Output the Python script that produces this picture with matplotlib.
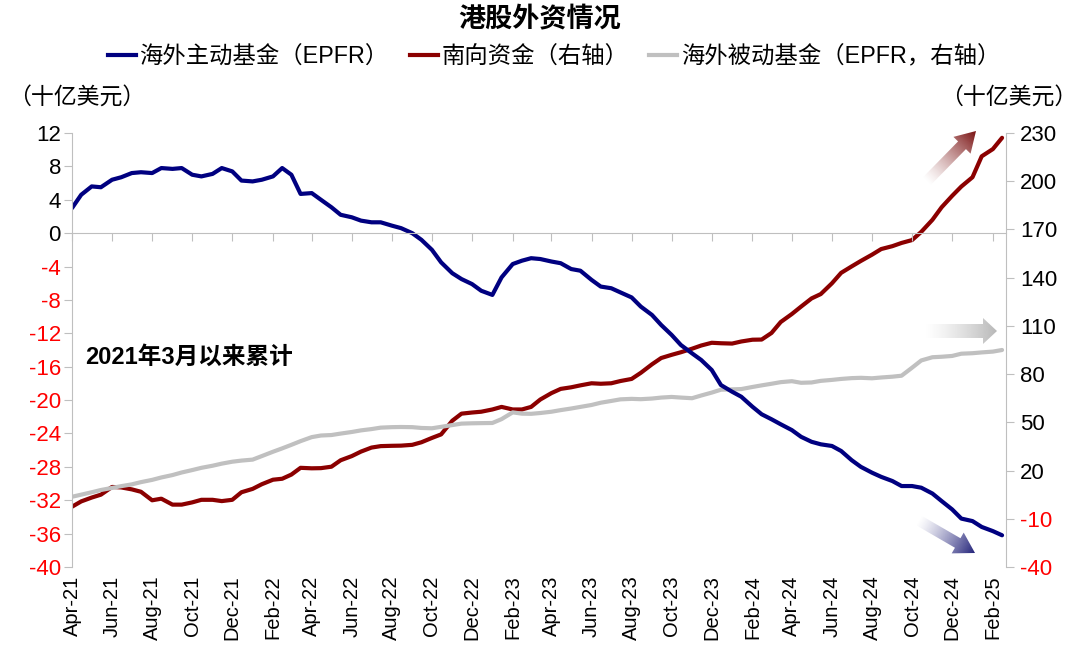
import numpy as np
import pandas as pd
import matplotlib
matplotlib.use("Agg")
import matplotlib.pyplot as plt
import matplotlib.dates as mdates
from matplotlib.patches import FancyArrow
from matplotlib.lines import Line2D

plt.rcParams['font.family'] = ['Liberation Sans', 'Noto Sans CJK SC', 'DejaVu Sans']

# 半月频率，2021-04-01 起
dates = pd.date_range('2021-04-01', periods=94, freq='SMS')

# 海外主动基金（EPFR），左轴，十亿美元
active = [3.0, 4.6, 5.6, 5.5, 6.4, 6.7, 7.2, 7.3, 7.2, 7.8,
          7.7, 7.8, 7.0, 6.8, 7.1, 7.8, 7.4, 6.3, 6.2, 6.4,
          6.8, 7.8, 7.0, 4.7, 4.8, 4.0, 3.1, 2.2, 1.9, 1.5,
          1.3, 1.3, 0.9, 0.6, 0.0, -0.8, -2.0, -3.5, -4.8, -5.5,
          -6.1, -6.9, -7.4, -5.3, -3.7, -3.3, -3.0, -3.1, -3.4, -3.6,
          -4.3, -4.5, -5.6, -6.4, -6.6, -7.1, -7.7, -8.8, -9.8, -11.0,
          -12.2, -13.4, -14.4, -15.2, -16.4, -18.2, -19.0, -19.6, -20.8, -21.7,
          -22.3, -22.9, -23.6, -24.4, -25.0, -25.3, -25.5, -26.1, -27.2, -28.0,
          -28.7, -29.2, -29.7, -30.3, -30.3, -30.5, -31.2, -32.1, -33.1, -34.2,
          -34.5, -35.2, -35.7, -36.2]

# 南向资金，右轴
southbound = [-2.5, 0.8, 3.2, 5.0, 9.8, 9.5, 8.3, 6.8, 1.5, 2.5,
              -1.2, -1.2, 0.2, 1.8, 1.8, 1.0, 1.8, 6.5, 8.6, 11.5,
              14.3, 14.9, 17.5, 21.7, 21.4, 21.5, 22.4, 26.4, 29.0, 31.8,
              34.3, 35.2, 35.4, 35.5, 36.0, 37.6, 40.3, 42.5, 51.0, 55.4,
              56.1, 56.6, 58.0, 59.6, 58.0, 58.0, 59.6, 64.2, 68.2, 70.8,
              71.8, 73.0, 74.3, 74.0, 74.3, 75.7, 77.0, 80.8, 86.1, 90.0,
              92.0, 93.6, 95.8, 97.8, 99.5, 99.2, 99.0, 100.3, 101.4, 101.5,
              105.6, 112.4, 117.4, 122.0, 127.1, 129.8, 136.5, 143.0, 147.0, 150.4,
              154.3, 157.8, 159.6, 161.6, 163.4, 168.5, 176.0, 183.8, 190.9, 196.7,
              202.5, 215.5, 220.0, 227.0]

# 海外被动基金（EPFR），右轴
passive = [3.7, 5.0, 6.5, 7.9, 9.2, 10.3, 11.4, 12.8, 14.2, 15.7,
           17.2, 18.8, 20.3, 21.7, 23.0, 24.3, 25.5, 26.2, 26.8, 29.0,
           31.7, 33.8, 36.0, 38.3, 40.8, 41.8, 42.1, 43.0, 44.0, 45.0,
           45.8, 46.7, 47.0, 47.1, 47.0, 46.5, 46.3, 47.2, 48.3, 49.2,
           49.4, 49.5, 49.6, 52.0, 56.2, 55.4, 55.3, 55.8, 56.6, 57.6,
           58.6, 59.6, 60.8, 62.2, 63.3, 64.3, 64.6, 64.4, 64.8, 65.4,
           65.8, 65.4, 65.0, 66.7, 68.5, 70.3, 70.5, 70.7, 72.0, 73.0,
           74.0, 75.0, 75.6, 74.6, 74.8, 75.8, 76.4, 77.0, 77.5, 77.7,
           77.4, 77.9, 78.4, 79.0, 84.0, 88.5, 90.5, 90.8, 91.3, 92.7,
           93.0, 93.5, 94.0, 95.0]

left_ticks = list(range(-40, 13, 4))
right_ticks = list(range(-40, 231, 30))
x_ticks = pd.date_range('2021-04-01', '2025-02-01', freq='2MS')
x_labels = [d.strftime('%b-%y') for d in x_ticks]

BLUE = '#000080'
RED = '#8B0000'
GREY = '#C0C0C0'
AXC = '#BFBFBF'

fig = plt.figure(figsize=(10.8, 6.62), dpi=100)
ax = fig.add_axes([72 / 1080, 1 - 567 / 662, 934 / 1080, 434 / 662])
ax2 = ax.twinx()
ax.set_zorder(2)
ax2.set_zorder(1)
ax.patch.set_visible(False)

ax2.plot(dates, southbound, color=RED, lw=3, solid_capstyle='round')
ax2.plot(dates, passive, color=GREY, lw=3, solid_capstyle='round')
ax.plot(dates, active, color=BLUE, lw=3, solid_capstyle='round')

ax.set_xlim(pd.Timestamp('2021-04-01'), pd.Timestamp('2025-02-21'))
ax.set_ylim(-40, 12)
ax2.set_ylim(-40, 230)

ax.set_yticks(left_ticks)
ax.set_yticklabels([str(v) for v in left_ticks])
for lab, v in zip(ax.get_yticklabels(), left_ticks):
    lab.set_color('red' if v < 0 else 'black')
ax2.set_yticks(right_ticks)
ax2.set_yticklabels([str(v) for v in right_ticks])
for lab, v in zip(ax2.get_yticklabels(), right_ticks):
    lab.set_color('red' if v < 0 else 'black')

for s in ['top', 'right']:
    ax.spines[s].set_visible(False)
for s in ['top', 'left', 'bottom']:
    ax2.spines[s].set_visible(False)
ax.spines['left'].set_color(AXC)
ax2.spines['right'].set_color(AXC)
ax.spines['bottom'].set_position(('data', 0))
ax.spines['bottom'].set_color(AXC)

ax.set_xticks(x_ticks)
ax.tick_params(axis='x', direction='out', length=6, color=AXC, labelbottom=False)
ax.tick_params(axis='y', direction='out', length=6, color=AXC, labelsize=16, pad=2)
ax2.tick_params(axis='y', direction='out', length=6, color=AXC, labelsize=16, pad=4)

sec = ax.secondary_xaxis('bottom')
sec.set_xticks(mdates.date2num(x_ticks))
sec.set_xticklabels(x_labels, rotation=90, fontsize=14.5)
sec.tick_params(length=0, pad=6)
sec.spines['bottom'].set_visible(False)

ax.text(0.014, 0.484, '2021年3月以来累计', transform=ax.transAxes,
        fontsize=17, fontweight='bold', va='center', ha='left')

fig.text(0.5, 1 - 20 / 662, '港股外资情况', ha='center', va='center',
         fontsize=19.5, fontweight='bold')
fig.text(8 / 1080, 1 - 97 / 662, '（十亿美元）', ha='left', va='center', fontsize=16.5)
fig.text(1077 / 1080, 1 - 97 / 662, '（十亿美元）', ha='right', va='center', fontsize=16.5)

handles = [Line2D([], [], color=BLUE, lw=3),
           Line2D([], [], color=RED, lw=3),
           Line2D([], [], color=GREY, lw=3)]
labels = ['海外主动基金（EPFR）', '南向资金（右轴）', '海外被动基金（EPFR，右轴）']
fig.legend(handles, labels, loc='center', bbox_to_anchor=(0.513, 1 - 57 / 662), ncol=3,
           frameon=False, fontsize=16.8, handlelength=1.2, handletextpad=0.15,
           columnspacing=0.9, borderaxespad=0)

# 渐变箭头（像素坐标）
ov = fig.add_axes([0, 0, 1, 1], zorder=5)
ov.set_xlim(0, 1080)
ov.set_ylim(662, 0)
ov.axis('off')


def grad_arrow(x0, y0, x1, y1, color, width, head_w, head_l):
    arrow = FancyArrow(x0, y0, x1 - x0, y1 - y0, width=width, head_width=head_w,
                       head_length=head_l, length_includes_head=True,
                       facecolor='none', edgecolor='none')
    ov.add_patch(arrow)
    pad = head_w
    xmin, xmax = min(x0, x1) - pad, max(x0, x1) + pad
    ymin, ymax = min(y0, y1) - pad, max(y0, y1) + pad
    xs = np.linspace(xmin, xmax, 200)
    ys = np.linspace(ymin, ymax, 200)
    gx, gy = np.meshgrid(xs, ys)
    dx, dy = x1 - x0, y1 - y0
    t = ((gx - x0) * dx + (gy - y0) * dy) / (dx * dx + dy * dy)
    t = np.clip(t, 0, 1) ** 1.3
    rgba = np.zeros((200, 200, 4))
    rgba[..., :3] = matplotlib.colors.to_rgb(color)
    rgba[..., 3] = t
    im = ov.imshow(rgba, extent=(xmin, xmax, ymax, ymin), origin='upper',
                   interpolation='bilinear', aspect='auto')
    im.set_clip_path(arrow)


grad_arrow(926, 182, 976, 131, '#7A1212', 11, 24, 20)
grad_arrow(925, 331, 997, 331, '#B8B8B8', 14, 26, 14)
grad_arrow(918, 520, 975, 553, '#23237A', 11, 24, 20)
ov.set_xlim(0, 1080)
ov.set_ylim(662, 0)

fig.savefig('out.png', dpi=100)
